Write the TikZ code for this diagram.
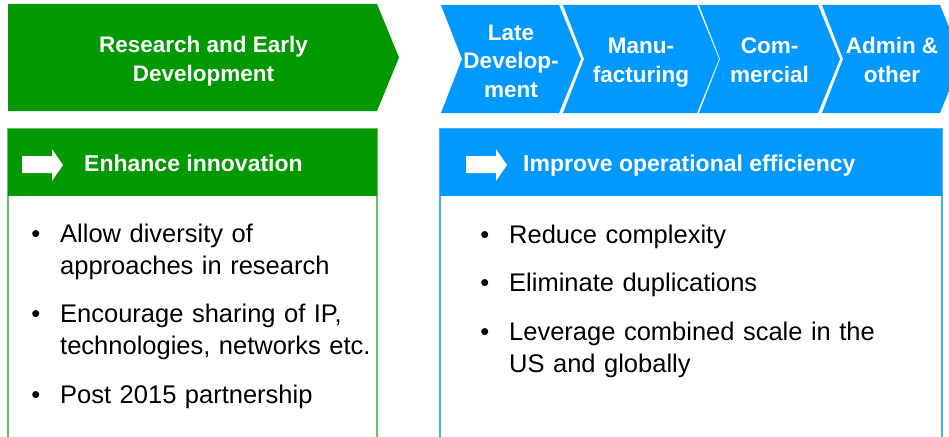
\documentclass[tikz,border=0pt]{standalone}
\usepackage{fontspec}
\setmainfont{Liberation Sans}
\usetikzlibrary{positioning}

\definecolor{rgreen}{RGB}{0,153,0}
\definecolor{rgreenline}{RGB}{100,195,100}
\definecolor{rblue}{RGB}{0,153,255}
\definecolor{rblueline}{RGB}{70,175,255}

\begin{document}
\begin{tikzpicture}[x=1pt,y=-1pt,
	stagetext/.style={text=white,font=\fontsize{22.5}{28.5}\selectfont\bfseries,align=center,anchor=base,inner sep=0pt},
	headtext/.style={text=white,font=\fontsize{23}{28}\selectfont\bfseries,anchor=base west,inner sep=0pt},
	itemtext/.style={font=\fontsize{25.5}{32}\selectfont,anchor=base west,inner sep=0pt,text width=#1,align=left},
	bulletmark/.style={font=\fontsize{25.5}{32}\selectfont,inner sep=0pt}]
	
	\useasboundingbox (0,0) rectangle (949,436);
	\clip (0,0) rectangle (949,436);
	
	% value chain (base = last line)
	\fill[rgreen] (8,4) -- (377,4) -- (399,57.5) -- (377,111) -- (8,111) -- cycle;
	\node[stagetext] (red) at (203.5,81) {Research and Early\\Development};
	
	\foreach \l/\r/\y/\nm/\txt in {441/559/97/late/{Late\\Develop-\\ment},
		563/697/82/manu/{Manu-\\facturing},
		699/818/82/comm/{Com-\\mercial},
		822/940/82/admin/{Admin \&\\other}}{
		\fill[rblue] (\l,5) -- (\r,5) -- (\r+22,59) -- (\r,113) -- (\l,113) -- (\l+21,59) -- cycle;
		\node[stagetext] (\nm) at ({(\l+\r+22)/2},\y) {\txt};
	}
	
	% boxes
	\draw[rgreenline,line width=1.5] (8,129) rectangle (377,440);
	\fill[rgreen] (8,129) rectangle (377,196);
	\draw[rblueline,line width=1.5] (440,129) rectangle (942,440);
	\fill[rblue] (440,129) rectangle (942,196);
	
	\foreach \a in {22,466}{
		\fill[white] (\a,156) -- (\a+30,156) -- (\a+30,149) -- (\a+41,165) -- (\a+30,181) -- (\a+30,173) -- (\a,173) -- cycle;
	}
	
	\node[headtext] (inno) at (84,171) {Enhance innovation};
	\node[headtext] (effi) at (523,171) {Improve operational efficiency};
	
	% left items
	\node[itemtext=330] (l1) at (60,242) {Allow diversity of\\approaches in research};
	\node[itemtext=330] (l2) at (60,322) {Encourage sharing of IP,\\technologies, networks etc.};
	\node[itemtext=330] (l3) at (60,403) {Post 2015 partnership};
	
	% right items
	\node[itemtext=420] (r1) at (509,243) {Reduce complexity};
	\node[itemtext=420] (r2) at (509,291) {Eliminate duplications};
	\node[itemtext=420] (r3) at (509,340) {Leverage combined scale in the\\US and globally};
	
	\foreach \i in {l1,l2,l3,r1,r2,r3}{
		\node[bulletmark,base left=19.5pt of \i.base west] (b\i) {\textbullet};
	}
	
\end{tikzpicture}
\end{document}
